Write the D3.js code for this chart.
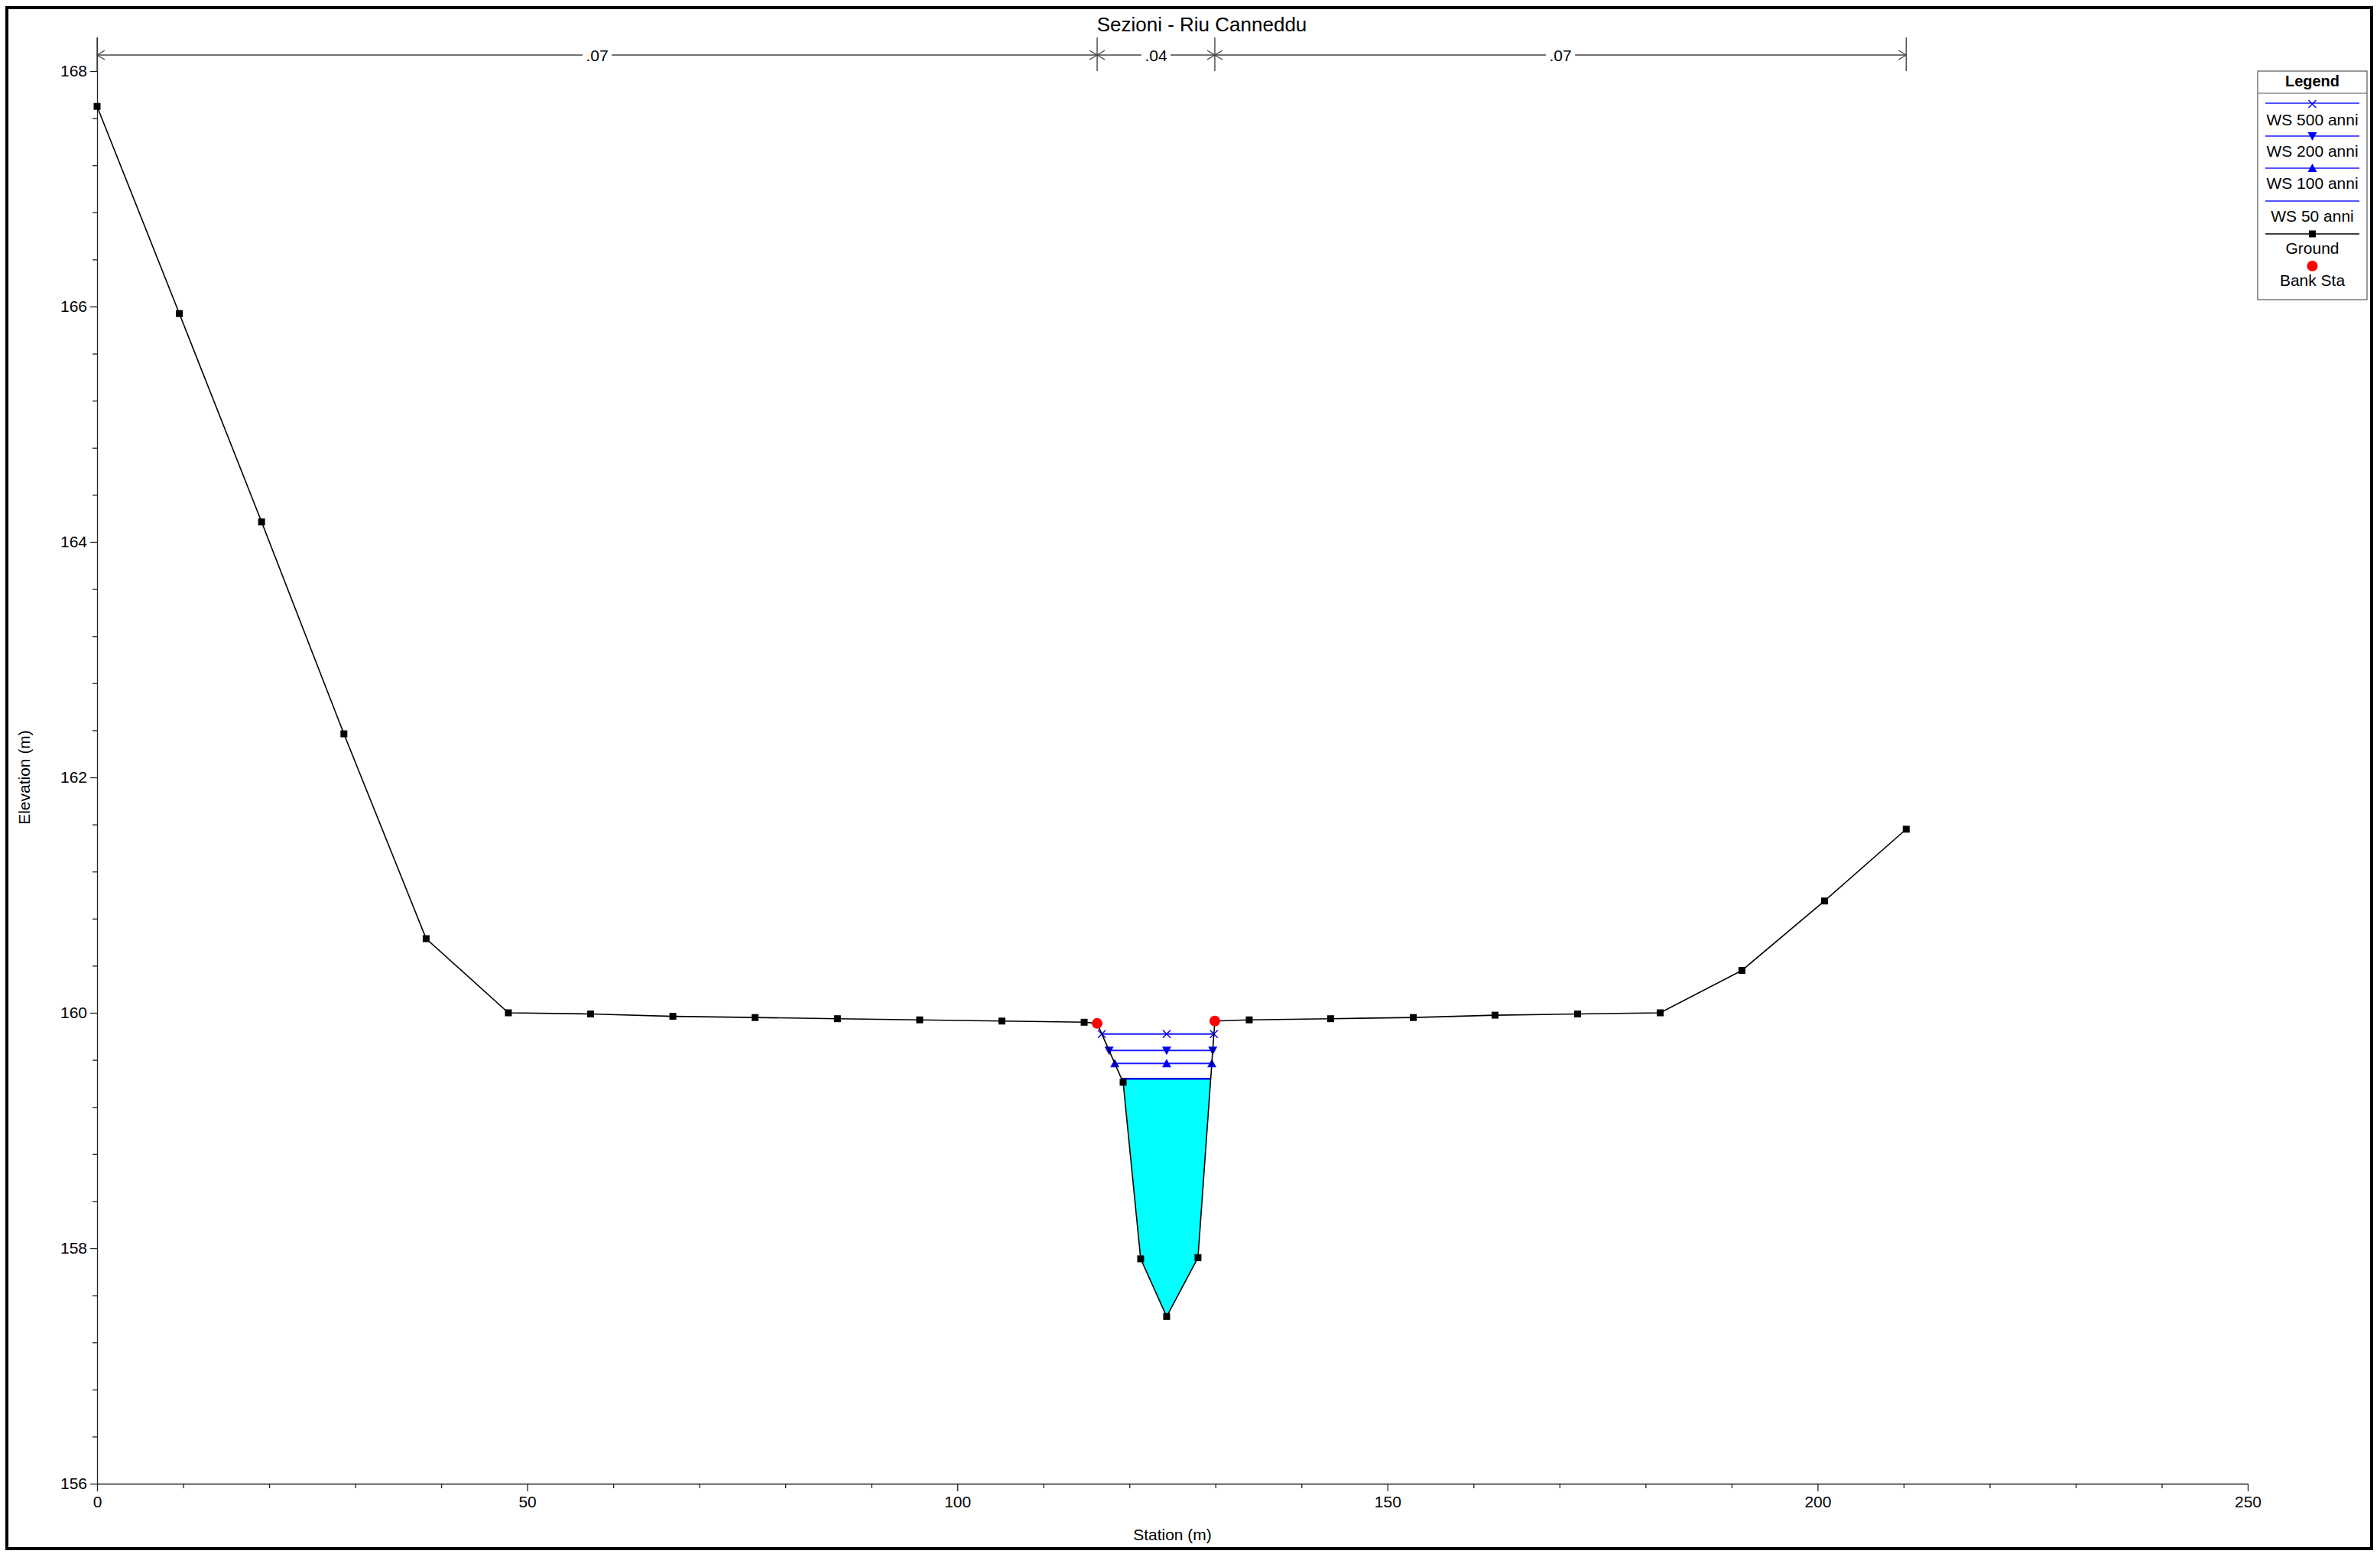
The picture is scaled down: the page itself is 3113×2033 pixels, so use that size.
<!DOCTYPE html>
<html><head><meta charset="utf-8">
<script src="https://cdn.jsdelivr.net/npm/d3@7"></script>
<style>html,body{margin:0;padding:0;background:#fff;}svg{display:block;font-family:"Liberation Sans",Arial,sans-serif;}</style>
</head><body>
<svg id="chart" width="3113" height="2033"></svg>
<script>
// ---- data ----
const title = "Sezioni - Riu Canneddu";
const xLabel = "Station (m)";
const yLabel = "Elevation (m)";
const groundStation = [0, 9.56, 19.12, 28.69, 38.25, 47.81, 57.37, 66.93, 76.49, 86.06, 95.62, 105.18, 114.74, 116.25, 119.27, 121.31, 124.33, 127.97, 129.93, 133.93, 143.4, 153.0, 162.5, 172.1, 181.7, 191.2, 200.8, 210.3];
const groundElev = [167.70, 165.94, 164.17, 162.37, 160.63, 160.00, 159.99, 159.97, 159.96, 159.95, 159.94, 159.93, 159.92, 159.91, 159.41, 157.91, 157.42, 157.92, 159.93, 159.94, 159.95, 159.96, 159.98, 159.99, 160.00, 160.36, 160.95, 161.56];
const bankStation = [116.25, 129.93];
const bankElev = [159.91, 159.93];
const wsNames = ["WS 500 anni", "WS 200 anni", "WS 100 anni", "WS 50 anni"];
const wsElev = [159.82, 159.68, 159.57, 159.44];
const wsMarker = ["x", "down", "up", "none"];
const nBounds = [0, 116.25, 129.93, 210.3];
const nLabels = [".07", ".04", ".07"];
const xMajorTicks = [0, 50, 100, 150, 200, 250];
const yMajorTicks = [156, 158, 160, 162, 164, 166, 168];
const xDomain = [0, 250];
const yDomain = [156, 168.29];

// ---- layout ----
const svg = d3.select("#chart");
const X0 = 127, X1 = 2940, Ybot = 1941;
const x = d3.scaleLinear().domain(xDomain).range([X0, X1]);
const y = d3.scaleLinear().domain([156, 168]).range([Ybot, 93]);
const yTopPx = y(yDomain[1]);
const font = '"Liberation Sans", Arial, sans-serif';

svg.append("rect").attr("x", 0).attr("y", 0).attr("width", 3113).attr("height", 2033).attr("fill", "#fff");
svg.append("rect").attr("x", 9).attr("y", 10).attr("width", 3093).attr("height", 2016)
  .attr("fill", "none").attr("stroke", "#000").attr("stroke-width", 4);

// title
svg.append("text").attr("x", 1572).attr("y", 41).attr("text-anchor", "middle")
  .attr("font-size", 26).attr("fill", "#000").text(title);

// axes
const minorX = d3.range(0, 26).map(i => i * 10);
const gx = svg.append("g").attr("transform", `translate(0,${Ybot})`);
gx.append("g").call(d3.axisBottom(x).tickValues(minorX.filter(v => !xMajorTicks.includes(v))).tickSize(6).tickFormat(""))
  .call(g => g.select(".domain").remove());
gx.append("g").call(d3.axisBottom(x).tickValues(xMajorTicks).tickSize(10).tickSizeOuter(0).tickPadding(6).tickFormat(d3.format("d")))
  .call(g => g.selectAll("text").attr("font-size", 21).attr("font-family", font).attr("fill", "#000"));
gx.selectAll("line,path").attr("stroke", "#222").attr("stroke-width", 1.3);

const yAxScale = d3.scaleLinear().domain(yDomain).range([Ybot, yTopPx]);
const minorY = d3.range(0, 31).map(i => +(156 + i * 0.4).toFixed(1)).filter(v => !yMajorTicks.includes(v));
const gy = svg.append("g").attr("transform", `translate(${X0},0)`);
gy.append("g").call(d3.axisLeft(yAxScale).tickValues(minorY).tickSize(6).tickFormat(""))
  .call(g => g.select(".domain").remove());
gy.append("g").call(d3.axisLeft(yAxScale).tickValues(yMajorTicks).tickSize(9).tickSizeOuter(0).tickPadding(4).tickFormat(d3.format("d")))
  .call(g => g.selectAll("text").attr("font-size", 21).attr("font-family", font).attr("fill", "#000"));
gy.selectAll("line,path").attr("stroke", "#222").attr("stroke-width", 1.3);

svg.append("text").attr("x", (X0 + X1) / 2).attr("y", 2015).attr("text-anchor", "middle")
  .attr("font-size", 21).text(xLabel);
svg.append("text").attr("transform", `translate(39,${(Ybot + 93) / 2}) rotate(-90)`).attr("text-anchor", "middle")
  .attr("font-size", 21).text(yLabel);

// Manning's n bar
const nY = 72;
const nBar = svg.append("g").attr("stroke", "#444").attr("stroke-width", 1.4).attr("fill", "none");
nBounds.forEach(b => {
  nBar.append("line").attr("x1", x(b)).attr("x2", x(b)).attr("y1", 49).attr("y2", 93);
});
nLabels.forEach((lab, i) => {
  const a = x(nBounds[i]), b = x(nBounds[i + 1]), m = (a + b) / 2;
  const half = 19;
  nBar.append("line").attr("x1", a).attr("x2", m - half).attr("y1", nY).attr("y2", nY);
  nBar.append("line").attr("x1", m + half).attr("x2", b).attr("y1", nY).attr("y2", nY);
  nBar.append("path").attr("d", `M${a + 10},${nY - 6}L${a},${nY}L${a + 10},${nY + 6}`);
  nBar.append("path").attr("d", `M${b - 10},${nY - 6}L${b},${nY}L${b - 10},${nY + 6}`);
  svg.append("text").attr("x", m).attr("y", nY + 8).attr("text-anchor", "middle")
    .attr("font-size", 21).text(lab);
});

// water surface intersections
const iMin = groundElev.indexOf(d3.min(groundElev));
function crossings(level) {
  let li = iMin;
  while (li > 0 && groundElev[li - 1] < level) li--;
  const l0 = li - 1;
  const tl = (level - groundElev[li]) / (groundElev[l0] - groundElev[li]);
  const xl = groundStation[li] + tl * (groundStation[l0] - groundStation[li]);
  let ri = iMin;
  while (ri < groundStation.length - 1 && groundElev[ri + 1] < level) ri++;
  const r0 = ri + 1;
  const tr = (level - groundElev[ri]) / (groundElev[r0] - groundElev[ri]);
  const xr = groundStation[ri] + tr * (groundStation[r0] - groundStation[ri]);
  return { xl, xr, li, ri };
}

// fill for lowest WS
const wsFillLevel = wsElev[3];
const c50 = crossings(wsFillLevel);
const poly = [[c50.xl, wsFillLevel]];
for (let i = c50.li; i <= c50.ri; i++) poly.push([groundStation[i], groundElev[i]]);
poly.push([c50.xr, wsFillLevel]);
svg.append("path").attr("d", d3.line().x(d => x(d[0])).y(d => y(d[1]))(poly) + "Z")
  .attr("fill", "#00ffff").attr("stroke", "none");

// WS lines
const wsColor = "#1a1aff";
function marker(g, type, cx, cy, color) {
  if (type === "x") {
    g.append("path").attr("d", `M${cx - 5},${cy - 5}L${cx + 5},${cy + 5}M${cx - 5},${cy + 5}L${cx + 5},${cy - 5}`)
      .attr("stroke", color).attr("stroke-width", 1.5).attr("fill", "none");
  } else if (type === "down") {
    g.append("path").attr("d", `M${cx - 6},${cy - 5}L${cx + 6},${cy - 5}L${cx},${cy + 6}Z`).attr("fill", color);
  } else if (type === "up") {
    g.append("path").attr("d", `M${cx - 6},${cy + 5}L${cx + 6},${cy + 5}L${cx},${cy - 6}Z`).attr("fill", color);
  }
}
wsElev.forEach((lv, k) => {
  const c = crossings(lv);
  const g = svg.append("g");
  g.append("line").attr("x1", x(c.xl)).attr("x2", x(c.xr)).attr("y1", y(lv)).attr("y2", y(lv))
    .attr("stroke", k === 3 ? "#0000dd" : wsColor).attr("stroke-width", k === 3 ? 2.5 : 2);
  if (wsMarker[k] !== "none") {
    [c.xl, groundStation[iMin], c.xr].forEach(s => marker(g, wsMarker[k], x(s), y(lv), "#0000ff"));
  }
});

// ground
svg.append("path").attr("d", d3.line().x((d, i) => x(groundStation[i])).y((d, i) => y(groundElev[i]))(groundStation))
  .attr("fill", "none").attr("stroke", "#000").attr("stroke-width", 1.6);
svg.append("g").selectAll("rect").data(groundStation).join("rect")
  .attr("x", (d) => x(d) - 4.5).attr("y", (d, i) => y(groundElev[i]) - 4.5)
  .attr("width", 9).attr("height", 9).attr("fill", "#000");
svg.append("g").selectAll("circle").data(bankStation).join("circle")
  .attr("cx", d => x(d)).attr("cy", (d, i) => y(bankElev[i])).attr("r", 7).attr("fill", "#ff0000");

// legend
const L = svg.append("g");
const lx0 = 2953, lx1 = 3096, lcx = (lx0 + lx1) / 2;
L.append("rect").attr("x", lx0).attr("y", 93).attr("width", lx1 - lx0).attr("height", 299)
  .attr("fill", "#fff").attr("stroke", "#555").attr("stroke-width", 1.2);
L.append("text").attr("x", lcx).attr("y", 113).attr("text-anchor", "middle").attr("font-size", 20)
  .attr("font-weight", "bold").text("Legend");
L.append("line").attr("x1", lx0).attr("x2", lx1).attr("y1", 122).attr("y2", 122).attr("stroke", "#555").attr("stroke-width", 1.2);
const legLineY = [135, 178, 220, 263];
const legTextY = [164, 205, 247, 290];
wsNames.forEach((nm, k) => {
  L.append("line").attr("x1", 2963).attr("x2", 3086).attr("y1", legLineY[k]).attr("y2", legLineY[k])
    .attr("stroke", wsColor).attr("stroke-width", 1.5);
  marker(L, wsMarker[k], lcx, legLineY[k] + (wsMarker[k] === "x" ? 1 : 0), "#0000ff");
  L.append("text").attr("x", lcx).attr("y", legTextY[k]).attr("text-anchor", "middle").attr("font-size", 21).text(nm);
});
L.append("line").attr("x1", 2963).attr("x2", 3086).attr("y1", 306).attr("y2", 306).attr("stroke", "#000").attr("stroke-width", 1.5);
L.append("rect").attr("x", lcx - 4.5).attr("y", 301.5).attr("width", 9).attr("height", 9).attr("fill", "#000");
L.append("text").attr("x", lcx).attr("y", 332).attr("text-anchor", "middle").attr("font-size", 21).text("Ground");
L.append("circle").attr("cx", lcx).attr("cy", 348).attr("r", 7).attr("fill", "#ff0000");
L.append("text").attr("x", lcx).attr("y", 374).attr("text-anchor", "middle").attr("font-size", 21).text("Bank Sta");
</script>
</body></html>
